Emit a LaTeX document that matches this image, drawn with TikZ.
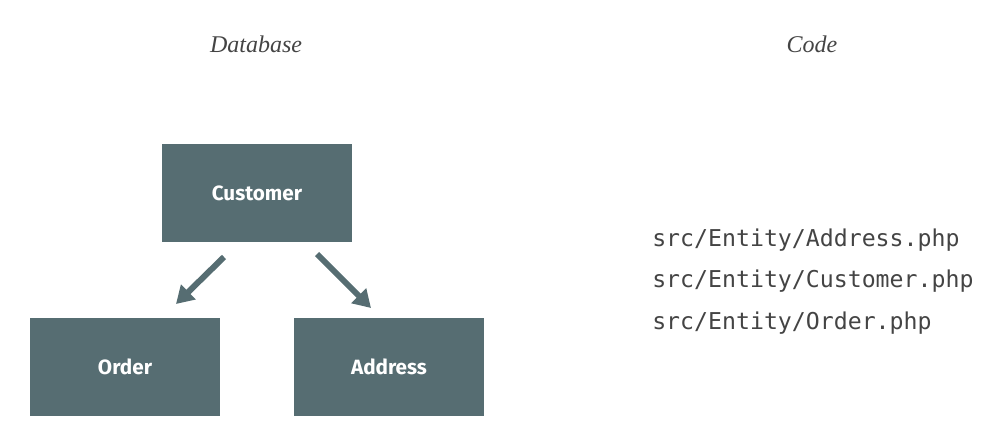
\documentclass[tikz,border=0pt]{standalone}
\usepackage{fontspec}
\setmainfont{Liberation Serif}
\setsansfont{Fira Sans}
\setmonofont{DejaVu Sans Mono}
\usetikzlibrary{arrows.meta}
\definecolor{boxgray}{HTML}{566D72}
\definecolor{textgray}{HTML}{444444}
\begin{document}
\begin{tikzpicture}[x=0.75pt,y=-0.75pt]
\begin{scope}
\tikzstyle{title} = [font=\fontsize{18}{20}\selectfont\itshape,text=textgray]
\tikzstyle{table} = [rectangle,fill=boxgray,minimum height=73.5pt,minimum width=142.5pt,text=white,font=\sffamily\bfseries\fontsize{15.5}{17}\selectfont]
\tikzstyle{file} = [anchor=base west,inner sep=0pt,font=\ttfamily\fontsize{17.4}{19}\selectfont,text=textgray]
\tikzstyle{fk} = [-{Triangle[length=13pt,width=15pt]},line width=4.5pt,draw=boxgray]

\useasboundingbox (0,0) rectangle (990,436);

\node [title] (db) at (256,44) {Database};
\node [title] (code) at (812,44) {Code};

\node [table] (customer) at (257,193) {Customer};
\node [table] (order) at (125,367) {Order};
\node [table] (address) at (389,367) {Address};

\coordinate (o1) at (224,257);
\coordinate (o2) at (176,304);
\coordinate (a1) at (317,254);
\coordinate (a2) at (371,308);
\draw [fk] (o1) -- (o2);
\draw [fk] (a1) -- (a2);

%files
\node [file] (f1) at (652,246) {src/Entity/Address.php};
\node [file] (f2) at (652,287) {src/Entity/Customer.php};
\node [file] (f3) at (652,329) {src/Entity/Order.php};
\end{scope}
\end{tikzpicture}
\end{document}
